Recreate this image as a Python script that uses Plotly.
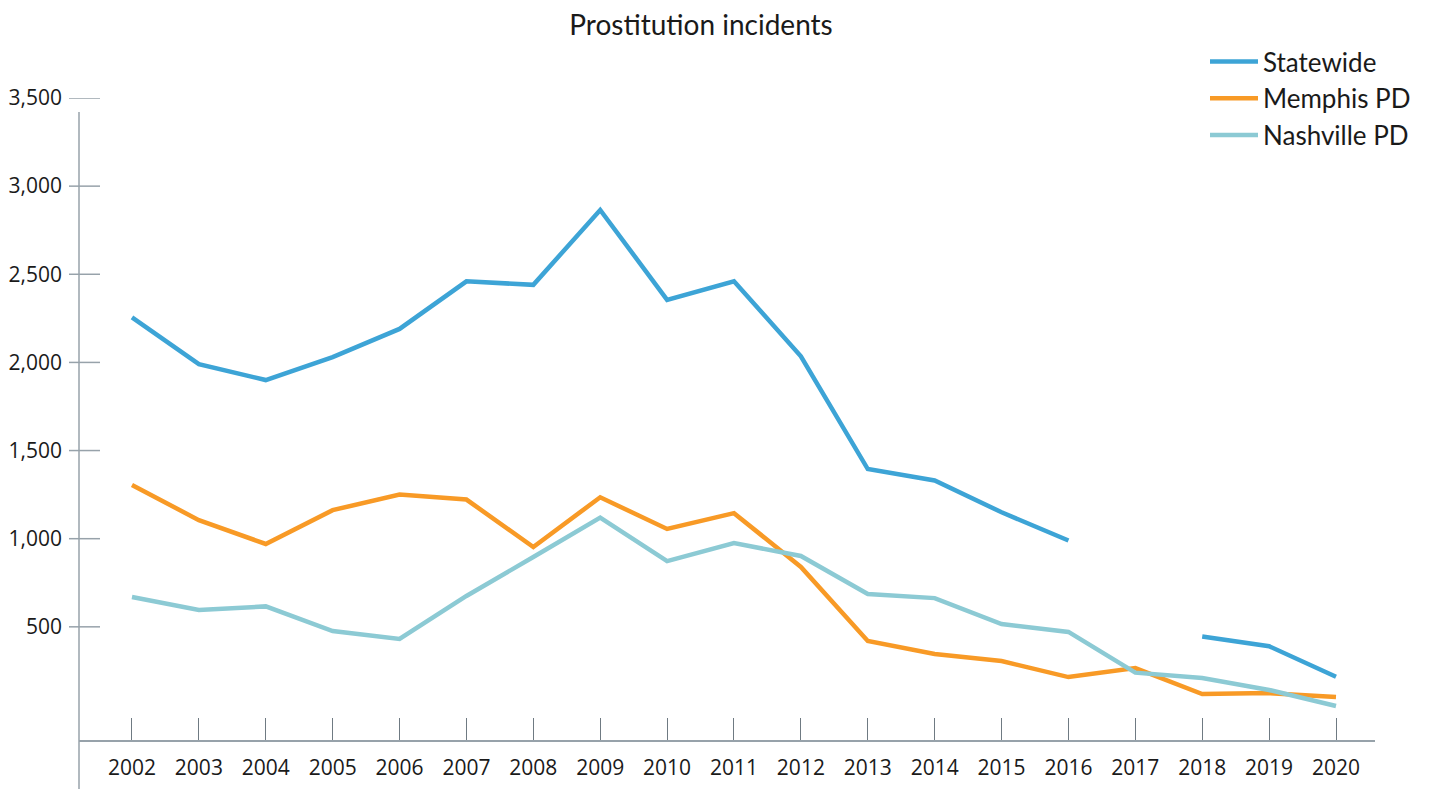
import plotly.graph_objects as go

years = list(range(2002, 2021))
statewide = [2255, 1990, 1900, 2030, 2190, 2460, 2440, 2865, 2355, 2460,
             2035, 1395, 1330, 1150, 990, None, 445, 390, 217]
memphis = [1305, 1105, 970, 1162, 1250, 1222, 953, 1235, 1055, 1145,
           840, 420, 346, 306, 215, 266, 119, 124, 102]
nashville = [669, 595, 616, 476, 431, 675, 896, 1120, 873, 975,
             902, 686, 663, 516, 471, 240, 210, 142, 51]
y_ticks = [500, 1000, 1500, 2000, 2500, 3000, 3500]

series = [
    ("Statewide", statewide, "#3da4d6"),
    ("Memphis PD", memphis, "#f89a26"),
    ("Nashville PD", nashville, "#8ccad4"),
]

AXIS = "#97a2aa"
W, H = 1431, 789
# page body adds an 8px offset, so everything is shifted up/left by 8
L, R, T, B = 71, 64, 90, 57
plot_w = W - L - R
plot_h = H - T - B

fig = go.Figure()
for name, vals, color in series:
    fig.add_trace(go.Scatter(
        x=years, y=vals, name=name, mode="lines",
        line=dict(color=color, width=4.5),
        connectgaps=False,
    ))

# y axis line runs past the plot area, drawn as a shape
fig.add_shape(type="line", xref="paper", yref="paper",
              x0=0, x1=0, y0=-60 / plot_h, y1=(plot_h - 14) / plot_h,
              line=dict(color=AXIS, width=1.5))
# y ticks cross the axis line
for v in y_ticks:
    fig.add_shape(type="line", xref="paper", yref="y",
                  x0=-10 / plot_w, x1=21 / plot_w, y0=v, y1=v,
                  line=dict(color=AXIS, width=1.5))

fig.update_layout(
    width=W, height=H,
    margin=dict(l=L, r=R, t=T, b=B, autoexpand=False),
    paper_bgcolor="white", plot_bgcolor="white",
    font=dict(family="Open Sans", size=21, color="#1a1a1a"),
    title=dict(text="Prostitution incidents", x=693 / W, xanchor="center",
               y=1 - 17 / H, yanchor="middle",
               font=dict(family="Lato", size=28, color="#1a1a1a")),
    showlegend=True,
    legend=dict(x=1197 / W, xref="container", y=1 - 30 / H, yref="container",
                xanchor="left", yanchor="top",
                font=dict(family="Lato", size=26, color="#1a1a1a"),
                tracegroupgap=0, itemwidth=48, bgcolor="rgba(0,0,0,0)"),
    xaxis=dict(range=[2001.208, 2020.583], tickmode="array", tickvals=years,
               ticktext=[str(y) for y in years],
               showgrid=False, zeroline=False, showline=True,
               linecolor=AXIS, linewidth=1.5,
               ticks="inside", ticklen=22, tickwidth=1.2, tickcolor="#6f7a82",
               ticklabelstandoff=8),
    yaxis=dict(range=[-142, 3500], tickmode="array", tickvals=y_ticks,
               tickformat=",", showgrid=False, zeroline=False, showline=False,
               ticks="", ticklabelstandoff=16),
)

fig.write_html("out.html")
